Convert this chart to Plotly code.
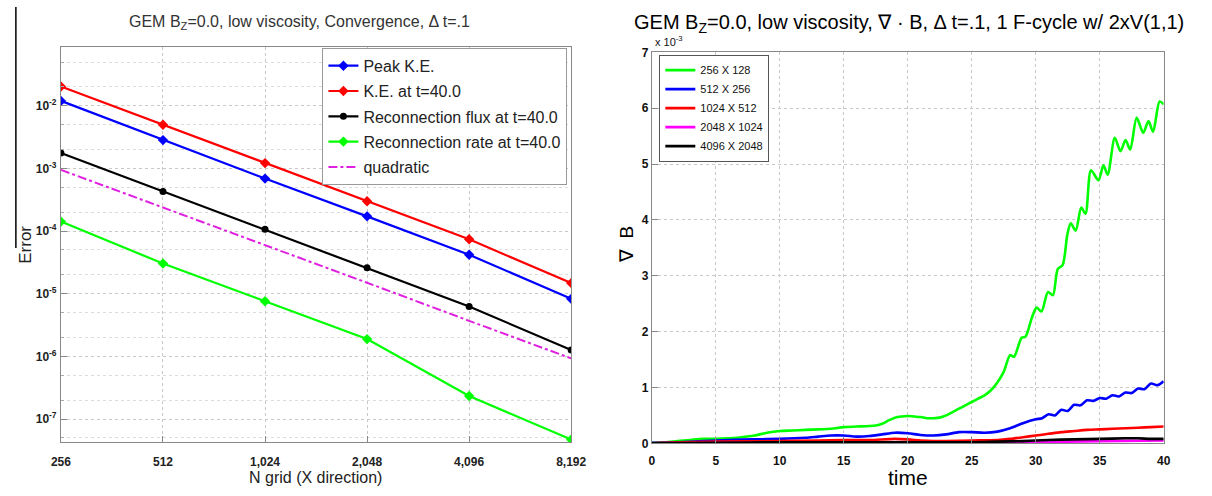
import plotly.graph_objects as go

# ---------------- Left panel data (convergence) ----------------
N_grid = [256, 512, 1024, 2048, 4096, 8192]
N_labels = ["256", "512", "1,024", "2,048", "4,096", "8,192"]
peak_ke = [1.2e-2, 2.84e-3, 6.9e-4, 1.72e-4, 4.2e-5, 8.3e-6]
ke_t40 = [2.04e-2, 5.0e-3, 1.22e-3, 3.0e-4, 7.4e-5, 1.48e-5]
flux_t40 = [1.77e-3, 4.3e-4, 1.07e-4, 2.6e-5, 6.25e-6, 1.27e-6]
rate_t40 = [1.42e-4, 3.04e-5, 7.6e-6, 1.89e-6, 2.33e-7, 4.7e-8]
quadratic = [9.5e-4, 2.4e-4, 6.0e-5, 1.5e-5, 3.7e-6, 9.3e-7]
decades = [1e-7, 1e-6, 1e-5, 1e-4, 1e-3, 1e-2]
decade_labels = ["10<sup>-7</sup>", "10<sup>-6</sup>", "10<sup>-5</sup>",
                 "10<sup>-4</sup>", "10<sup>-3</sup>", "10<sup>-2</sup>"]

# ---------------- Right panel data (div B, units of 1e-3) ----------------
t_g = [0, 1, 2, 3, 4, 5, 6, 7, 8, 9, 10, 11, 12, 13, 14, 15, 16, 17, 17.5, 18, 18.5,
       19, 19.5, 20, 20.5, 21, 21.5, 22, 22.5, 23, 23.5, 24, 24.5, 25, 25.5, 26, 26.5,
       27, 27.5, 28, 28.3, 28.9, 29.2, 29.7, 30.07, 30.45, 30.96, 31.34, 31.72, 32.1,
       32.48, 32.74, 33.12, 33.56, 33.89, 34.32, 34.9, 35.29, 35.62, 36.18, 36.62,
       37.02, 37.38, 37.89, 38.4, 38.81, 39.17, 39.68, 40]
v_g = [0.01, 0.02, 0.04, 0.06, 0.08, 0.08, 0.09, 0.11, 0.14, 0.19, 0.22, 0.23, 0.24,
       0.25, 0.26, 0.29, 0.30, 0.31, 0.32, 0.35, 0.41, 0.46, 0.48, 0.49, 0.48, 0.47,
       0.45, 0.45, 0.46, 0.50, 0.56, 0.62, 0.68, 0.74, 0.80, 0.86, 0.95, 1.09, 1.28,
       1.58, 1.55, 1.89, 1.91, 2.25, 2.43, 2.36, 2.71, 2.65, 3.12, 3.19, 3.75, 3.94,
       3.81, 4.22, 4.11, 4.89, 4.71, 4.98, 4.81, 5.47, 5.23, 5.43, 5.26, 5.83, 5.56,
       5.77, 5.58, 6.12, 6.07]
t_b = [0, 2, 4, 6, 8, 10, 12, 13, 14, 15, 16, 17, 18, 19, 20, 21, 22, 23, 24, 25, 26,
       27, 28, 29, 30, 30.5, 31, 31.5, 32, 32.5, 33, 33.5, 34, 34.5, 35, 35.5, 36,
       36.5, 37, 37.5, 38, 38.5, 39, 39.5, 40]
v_b = [0.01, 0.02, 0.04, 0.06, 0.07, 0.08, 0.10, 0.12, 0.14, 0.14, 0.12, 0.13, 0.16,
       0.19, 0.18, 0.15, 0.14, 0.16, 0.20, 0.20, 0.19, 0.21, 0.27, 0.36, 0.43, 0.45,
       0.52, 0.50, 0.60, 0.58, 0.69, 0.68, 0.77, 0.76, 0.81, 0.80, 0.86, 0.84, 0.91,
       0.90, 0.98, 0.97, 1.07, 1.04, 1.11]
t_r = [0, 5, 10, 13, 15, 17, 19, 20, 21, 22, 23, 25, 27, 28, 29, 30, 31, 32, 33, 34,
       35, 36, 37, 38, 39, 40]
v_r = [0.0, 0.03, 0.04, 0.05, 0.06, 0.06, 0.08, 0.07, 0.05, 0.04, 0.04, 0.05, 0.06,
       0.08, 0.11, 0.14, 0.17, 0.20, 0.22, 0.24, 0.25, 0.26, 0.27, 0.28, 0.29, 0.30]
t_m = [0, 10, 15, 20, 25, 30, 35, 40]
v_m = [0.0, 0.01, 0.02, 0.01, 0.01, 0.02, 0.04, 0.05]
t_k = [0, 5, 10, 15, 20, 25, 27, 29, 31, 33, 35, 37, 38, 39, 40]
v_k = [0.0, 0.01, 0.02, 0.02, 0.02, 0.02, 0.03, 0.04, 0.06, 0.07, 0.08, 0.09, 0.09,
       0.08, 0.08]
time_ticks = [0, 5, 10, 15, 20, 25, 30, 35, 40]
divb_ticks = [0, 1, 2, 3, 4, 5, 6, 7]

W, H = 1212, 496
FONT = "Liberation Sans, Arial, sans-serif"

def px(x):
    return x / W

def py(y):
    return 1 - y / H

fig = go.Figure()

left_series = [
    ("Peak K.E.", peak_ke, "#0000ff", "diamond", 8),
    ("K.E. at t=40.0", ke_t40, "#ff0000", "diamond", 8),
    ("Reconnection flux at t=40.0", flux_t40, "#000000", "circle", 7),
    ("Reconnection rate at t=40.0", rate_t40, "#00ff00", "diamond", 8),
]
for i, (name, vals, col, sym, ms) in enumerate(left_series):
    fig.add_trace(go.Scatter(
        x=N_grid, y=vals, name=name, mode="lines+markers",
        line=dict(color=col, width=2.2),
        marker=dict(symbol=sym, size=ms, color=col),
        xaxis="x", yaxis="y", legend="legend", legendgroup="L%d" % i))
fig.add_trace(go.Scatter(
    x=N_grid, y=quadratic, name="quadratic", mode="lines",
    line=dict(color="#e020e0", width=2, dash="dashdot"),
    xaxis="x", yaxis="y", legend="legend", legendgroup="L4"))

right_series = [
    ("256 X 128", t_g, v_g, "#00ff00"),
    ("512 X 256", t_b, v_b, "#0000ff"),
    ("1024 X 512", t_r, v_r, "#ff0000"),
    ("2048 X 1024", t_m, v_m, "#ff00ff"),
    ("4096 X 2048", t_k, v_k, "#000000"),
]
for name, tt, vv, col in right_series:
    fig.add_trace(go.Scatter(
        x=tt, y=vv, name=name, mode="lines",
        line=dict(color=col, width=2.6, shape="spline", smoothing=0.8),
        xaxis="x2", yaxis="y2", legend="legend2"))

grid_col = "#c8c8c8"
tickfont_l = dict(family=FONT, size=12, color="#222", weight="bold")
tickfont_r = dict(family=FONT, size=12, color="#111", weight="bold")

fig.update_layout(
    width=W, height=H,
    margin=dict(l=0, r=0, t=0, b=0),
    paper_bgcolor="white", plot_bgcolor="white",
    font=dict(family=FONT),
    xaxis=dict(
        type="log", domain=[px(52), px(573)],
        range=[2.40824, 3.91339],
        tickvals=N_grid, ticktext=N_labels, tickfont=tickfont_l,
        showgrid=True, gridcolor=grid_col, griddash="dot", gridwidth=1,
        showline=True, linecolor="#888", mirror=True,
        ticks="inside", ticklen=6, tickcolor="#888",
        zeroline=False, anchor="y", ticklabelstandoff=8,
    ),
    yaxis=dict(
        type="log", domain=[py(448), py(41)],
        range=[-7.372, -1.058],
        tickvals=decades, ticktext=decade_labels, tickfont=tickfont_l,
        showgrid=True, gridcolor=grid_col, griddash="dot", gridwidth=1,
        minor=dict(showgrid=True, gridcolor="#dcdcdc", griddash="dot",
                   ticks="inside", ticklen=3, tickcolor="#aaa"),
        showline=True, linecolor="#888", mirror=True,
        ticks="inside", ticklen=6, tickcolor="#888",
        zeroline=False, anchor="x", ticklabelstandoff=1,
    ),
    xaxis2=dict(
        domain=[px(655.3), px(1178)], range=[0, 40],
        tickvals=time_ticks, tickfont=tickfont_r,
        showgrid=True, gridcolor=grid_col, griddash="dot", gridwidth=1,
        showline=True, linecolor="#888", mirror=True,
        ticks="inside", ticklen=6, tickcolor="#888",
        zeroline=False, anchor="y2", ticklabelstandoff=6,
    ),
    yaxis2=dict(
        domain=[py(449), py(46.7)], range=[0, 7],
        tickvals=divb_ticks, tickfont=tickfont_r,
        showgrid=True, gridcolor=grid_col, griddash="dot", gridwidth=1,
        showline=True, linecolor="#888", mirror=True,
        ticks="inside", ticklen=6, tickcolor="#888",
        zeroline=False, anchor="x2", ticklabelstandoff=0,
    ),
    legend=dict(
        x=px(319), y=py(42), xanchor="left", yanchor="top",
        bgcolor="white", bordercolor="#999", borderwidth=1,
        font=dict(family=FONT, size=16, color="#222"),
        tracegroupgap=1.5, itemwidth=30,
    ),
    legend2=dict(
        x=px(663), y=py(49), xanchor="left", yanchor="top",
        bgcolor="white", bordercolor="#555", borderwidth=1,
        font=dict(family=FONT, size=11, color="#111"),
        tracegroupgap=0, itemwidth=30,
    ),
    showlegend=True,
)

annotations = [
    dict(text="GEM B<sub>Z</sub>=0.0, low viscosity, Convergence, \u0394 t=.1",
         x=px(296), y=py(16), xref="paper", yref="paper", showarrow=False,
         xanchor="center", yanchor="middle",
         font=dict(family=FONT, size=16, color="#333")),
    dict(text="Error", x=px(15), y=py(245), xref="paper", yref="paper",
         xanchor="center", yanchor="middle",
         showarrow=False, textangle=-90, font=dict(family=FONT, size=17, color="#222")),
    dict(text="N grid (X direction)", x=px(312), y=py(484), xref="paper", yref="paper",
         xanchor="center", yanchor="middle",
         showarrow=False, font=dict(family=FONT, size=16, color="#222")),
    dict(text="GEM B<sub>Z</sub>=0.0, low viscosity, \u2207 \u00b7 B, \u0394 t=.1, 1 F-cycle w/ 2xV(1,1)",
         x=px(918), y=py(17), xref="paper", yref="paper", showarrow=False,
         xanchor="center", yanchor="middle",
         font=dict(family=FONT, size=20, color="#000")),
    dict(text="x 10<sup>-3</sup>", x=px(657), y=py(35), xref="paper", yref="paper",
         xanchor="left", yanchor="middle",
         showarrow=False, font=dict(family=FONT, size=11, color="#111")),
    dict(text="\u2207  B", x=px(629), y=py(245), xref="paper", yref="paper",
         xanchor="center", yanchor="middle",
         showarrow=False, textangle=-90, font=dict(family=FONT, size=19, color="#000")),
    dict(text="time", x=px(917), y=py(484), xref="paper", yref="paper",
         xanchor="center", yanchor="middle",
         showarrow=False, font=dict(family=FONT, size=21, color="#000")),
]
fig.update_layout(annotations=annotations)

fig.add_shape(type="line", xref="paper", yref="paper",
              x0=px(6), x1=px(6), y0=1, y1=py(248),
              line=dict(color="black", width=1.5))

fig.write_html("out.html")
